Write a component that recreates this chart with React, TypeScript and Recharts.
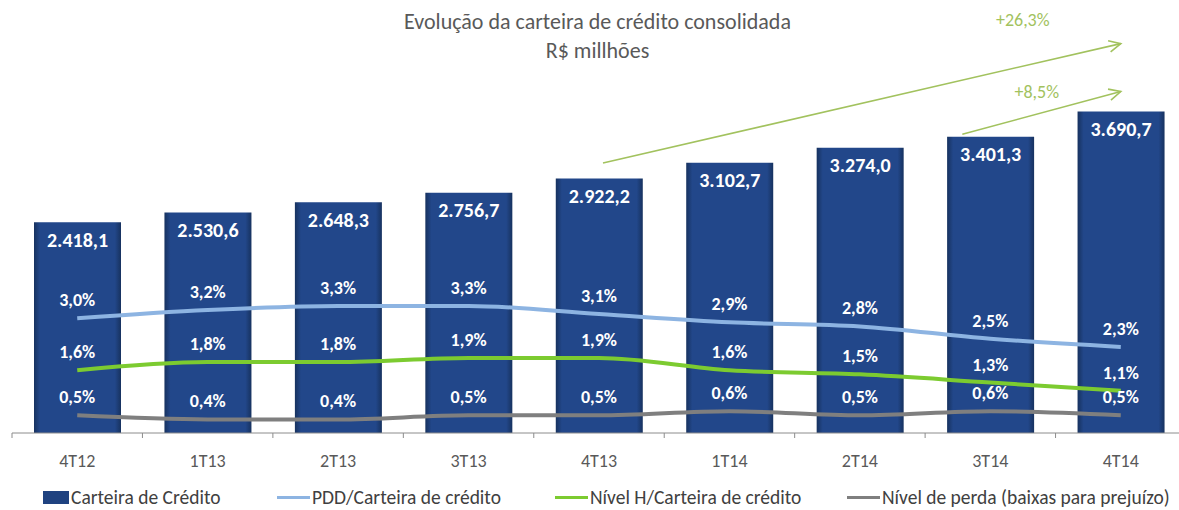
import React from 'react';
import { ComposedChart, Bar, Line, XAxis, YAxis, LabelList, ReferenceLine } from 'recharts';

const quarters = ['4T12', '1T13', '2T13', '3T13', '4T13', '1T14', '2T14', '3T14', '4T14'];
const carteira = [2418.1, 2530.6, 2648.3, 2756.7, 2922.2, 3102.7, 3274.0, 3401.3, 3690.7];
const pdd = [3.0, 3.2, 3.3, 3.3, 3.1, 2.9, 2.8, 2.5, 2.3];
const nivelH = [1.6, 1.8, 1.8, 1.9, 1.9, 1.6, 1.5, 1.3, 1.1];
const perda = [0.5, 0.4, 0.4, 0.5, 0.5, 0.6, 0.5, 0.6, 0.5];
const growth = ['+26,3%', '+8,5%'];

const seriesNames = [
  'Carteira de Crédito',
  'PDD/Carteira de crédito',
  'Nível H/Carteira de crédito',
  'Nível de perda (baixas para prejuízo)',
];

const data = quarters.map((q, i) => ({
  q,
  carteira: carteira[i],
  pdd: pdd[i],
  nivelH: nivelH[i],
  perda: perda[i],
}));

const FONT = 'Carlito, Lato, "Open Sans", sans-serif';
const NAVY = '#1f4280';
const colors = { pdd: '#8db4e2', nivelH: '#7ccb30', perda: '#7f7f7f', arrow: '#a2c25e' };

const CHART_W = 1200;
const MARGIN = { top: 41, right: 14, left: 12, bottom: 47 };
const BAND = (CHART_W - MARGIN.left - MARGIN.right) / quarters.length;
const AXIS_Y = 433;

const fmtMoney = (v: number) => {
  const [int, dec] = v.toFixed(1).split('.');
  return int.replace(/\B(?=(\d{3})+(?!\d))/g, '.') + ',' + dec;
};
const fmtPct = (v: number) => v.toFixed(1).replace('.', ',') + '%';

const QuarterTick = (props: any) => {
  const { x, y, payload, index } = props;
  return (
    <g>
      <line x1={x - BAND / 2} x2={x - BAND / 2} y1={AXIS_Y} y2={AXIS_Y + 5} stroke="#8c8c8c" />
      {index === quarters.length - 1 && (
        <line x1={x + BAND / 2} x2={x + BAND / 2} y1={AXIS_Y} y2={AXIS_Y + 5} stroke="#8c8c8c" />
      )}
      <text x={x} y={y} dy={26} textAnchor="middle" fill="#595959" fontSize={18} fontFamily={FONT}>
        {payload.value}
      </text>
    </g>
  );
};

const arrowShape = (label: string, startShift: number, labelDx: number, labelDy: number) => (props: any) => {
  const x1 = props.x1 + startShift;
  const { y1, x2, y2 } = props;
  const ang = Math.atan2(y2 - y1, x2 - x1);
  const len = 13;
  const spread = 0.45;
  const a1x = x2 - len * Math.cos(ang - spread);
  const a1y = y2 - len * Math.sin(ang - spread);
  const a2x = x2 - len * Math.cos(ang + spread);
  const a2y = y2 - len * Math.sin(ang + spread);
  return (
    <g>
      <line x1={x1} y1={y1} x2={x2} y2={y2} stroke={colors.arrow} strokeWidth={1.6} />
      <polyline points={`${a1x},${a1y} ${x2},${y2} ${a2x},${a2y}`} fill="none" stroke={colors.arrow} strokeWidth={1.6} />
      <text x={x2 + labelDx} y={y2 + labelDy} textAnchor="middle" fill={colors.arrow} fontSize={18} fontFamily={FONT}>
        {label}
      </text>
    </g>
  );
};

const Legend = () => {
  const lefts = [43, 277, 555, 847];
  const icons = [NAVY, colors.pdd, colors.nivelH, colors.perda];
  return (
    <>
      {seriesNames.map((name, i) => (
        <div
          key={name}
          style={{
            position: 'absolute',
            left: lefts[i],
            top: 485,
            height: 24,
            display: 'flex',
            alignItems: 'center',
            fontFamily: FONT,
            fontSize: 19.5,
            color: '#404040',
            whiteSpace: 'nowrap',
          }}
        >
          {i === 0 ? (
            <span style={{ width: 26, height: 13, background: NAVY, display: 'inline-block', marginRight: 2 }} />
          ) : (
            <span style={{ width: 33, height: 3, background: icons[i], display: 'inline-block', marginRight: 2 }} />
          )}
          {name}
        </div>
      ))}
    </>
  );
};

export default function App() {
  return (
    <div style={{ position: 'absolute', left: 0, top: 0, width: 1179, height: 510, overflow: 'hidden', background: '#fff' }}>
      <div style={{ position: 'absolute', top: 7, left: 8, width: 1179, textAlign: 'center', fontFamily: FONT, fontSize: 22, color: '#595959', lineHeight: '29px' }}>
        <div>Evolução da carteira de crédito consolidada</div>
        <div>R$ millhões</div>
      </div>
      <ComposedChart width={CHART_W} height={510} data={data} margin={MARGIN}>
        <defs>
          <linearGradient id="barGrad" x1="0" y1="0" x2="1" y2="0">
            <stop offset="0" stopColor="#17325f" />
            <stop offset="0.07" stopColor="#22478a" />
            <stop offset="0.93" stopColor="#22478a" />
            <stop offset="1" stopColor="#17325f" />
          </linearGradient>
        </defs>
        <XAxis
          dataKey="q"
          height={30}
          axisLine={{ stroke: '#8c8c8c' }}
          tickLine={false}
          interval={0}
          tick={<QuarterTick />}
        />
        <YAxis yAxisId="bar" hide domain={[0, 4500]} />
        <YAxis yAxisId="pdd" hide domain={[0.2, 9.76]} />
        <YAxis yAxisId="low" hide domain={[0.07, 9.63]} />
        <Bar yAxisId="bar" dataKey="carteira" barSize={87} fill="url(#barGrad)" isAnimationActive={false}>
          <LabelList
            dataKey="carteira"
            position="insideTop"
            offset={10}
            formatter={(v: any) => fmtMoney(Number(v))}
            fill="#fff"
            fontSize={20}
            fontWeight={700}
            fontFamily={FONT}
          />
        </Bar>
        <Line yAxisId="pdd" type="monotone" dataKey="pdd" stroke={colors.pdd} strokeWidth={4} dot={false} isAnimationActive={false}>
          <LabelList dataKey="pdd" position="top" offset={12} formatter={(v: any) => fmtPct(Number(v))} fill="#fff" fontSize={18} fontWeight={700} fontFamily={FONT} />
        </Line>
        <Line yAxisId="low" type="monotone" dataKey="nivelH" stroke={colors.nivelH} strokeWidth={4} dot={false} isAnimationActive={false}>
          <LabelList dataKey="nivelH" position="top" offset={12} formatter={(v: any) => fmtPct(Number(v))} fill="#fff" fontSize={18} fontWeight={700} fontFamily={FONT} />
        </Line>
        <Line yAxisId="low" type="monotone" dataKey="perda" stroke={colors.perda} strokeWidth={4} dot={false} isAnimationActive={false}>
          <LabelList dataKey="perda" position="top" offset={12} formatter={(v: any) => fmtPct(Number(v))} fill="#fff" fontSize={18} fontWeight={700} fontFamily={FONT} />
        </Line>
        <ReferenceLine
          yAxisId="bar"
          segment={[{ x: '4T13', y: 3100 }, { x: '4T14', y: 4470 }]}
          shape={arrowShape(growth[0], 4, -98, -18)}
        />
        <ReferenceLine
          yAxisId="bar"
          segment={[{ x: '3T14', y: 3430 }, { x: '4T14', y: 3920 }]}
          shape={arrowShape(growth[1], -28, -84, 6)}
        />
      </ComposedChart>
      <Legend />
    </div>
  );
}
